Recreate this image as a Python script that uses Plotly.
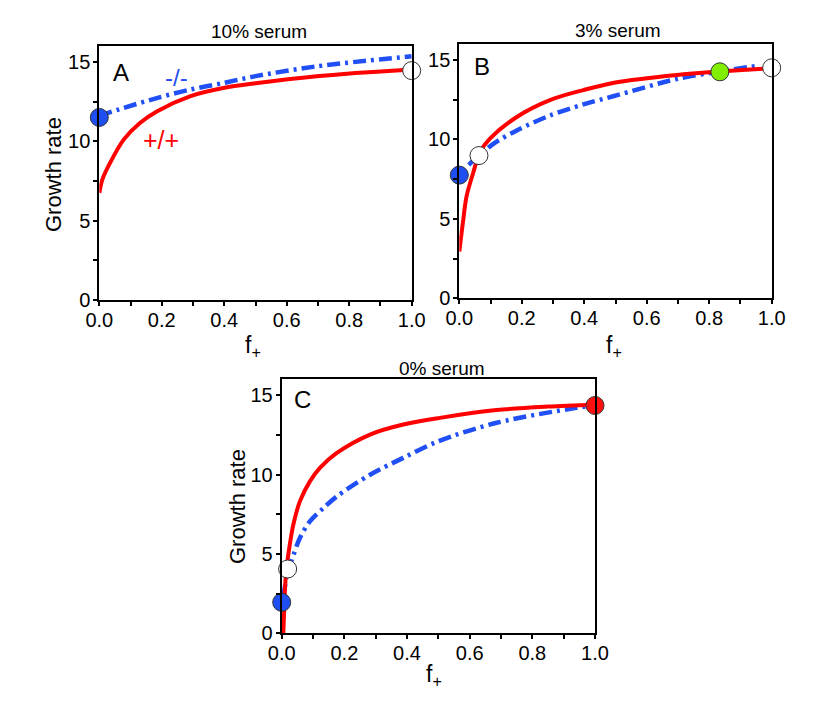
import plotly.graph_objects as go

# ---------------- data ----------------
# Panel A: 10% serum
a_red_x = [0.0, 0.01, 0.034, 0.078, 0.13, 0.184, 0.29, 0.397, 0.5, 0.696, 0.9625, 1.0]
a_red_y = [6.75, 7.6, 8.62, 10.1, 11.15, 11.88, 12.83, 13.35, 13.65, 14.09, 14.47, 14.5]
a_blue_x = [0.0, 0.078, 0.184, 0.29, 0.397, 0.5, 0.696, 1.0]
a_blue_y = [11.6, 12.1, 12.72, 13.25, 13.67, 14.1, 14.72, 15.35]
a_pts_x = [0.0, 1.0]
a_pts_y = [11.5, 14.45]
a_pts_c = ["#1f4ff0", "#ffffff"]

# Panel B: 3% serum
b_red_x = [0.0, 0.0128, 0.0235, 0.045, 0.066, 0.098, 0.184, 0.29, 0.397, 0.5, 0.696, 0.834, 0.973, 1.0]
b_red_y = [2.94, 4.96, 6.44, 7.93, 9.19, 10.04, 11.41, 12.47, 13.1, 13.58, 14.05, 14.27, 14.45, 14.48]
b_blue_x = [0.03, 0.063, 0.109, 0.184, 0.29, 0.397, 0.5, 0.696, 0.834, 0.962]
b_blue_y = [8.4, 8.98, 9.72, 10.56, 11.5, 12.2, 12.75, 13.8, 14.27, 14.65]
b_pts_x = [0.0, 0.063, 0.834, 1.0]
b_pts_y = [7.75, 8.98, 14.25, 14.5]
b_pts_c = ["#1f4ff0", "#ffffff", "#80f000", "#ffffff"]

# Panel C: 0% serum
c_red_x = [0.005, 0.008, 0.0105, 0.015, 0.021, 0.03, 0.037, 0.058, 0.09, 0.122, 0.176, 0.282, 0.388, 0.505, 0.686, 0.85, 1.0]
c_red_y = [0.0, 1.5, 2.84, 4.0, 4.94, 6.1, 6.84, 8.31, 9.57, 10.42, 11.36, 12.52, 13.15, 13.57, 14.06, 14.28, 14.4]
c_blue_x = [0.004, 0.011, 0.019, 0.032, 0.058, 0.09, 0.133, 0.176, 0.282, 0.388, 0.5, 0.686, 0.94, 1.0]
c_blue_y = [2.3, 3.0, 4.04, 4.63, 6.0, 7.05, 7.89, 8.62, 9.99, 11.05, 12.1, 13.26, 14.2, 14.35]
c_pts_x = [0.0, 0.019, 1.0]
c_pts_y = [1.95, 4.05, 14.35]
c_pts_c = ["#1f4ff0", "#ffffff", "#ff1010"]

titles = ["10% serum", "3% serum", "0% serum"]
letters = ["A", "B", "C"]

RED = "#ff0000"
BLUE = "#1f4ff5"
FONT = "Liberation Sans, Arial, sans-serif"

# page body has an 8px margin, so the figure is drawn at (8, 8)
OFF = 8
W, H = 830 - OFF, 712 - OFF
def px_x(p):
    return (p - OFF) / W
def px_y(p):
    return 1 - (p - OFF) / H

# panel boxes in window pixels (left, right, top, bottom)
boxes = [(99.3, 411.7, 46, 300), (459.3, 771.7, 44, 298.3), (281.7, 595, 379.3, 633.3)]

fig = go.Figure()

panels = [
    (a_red_x, a_red_y, a_blue_x, a_blue_y, a_pts_x, a_pts_y, a_pts_c),
    (b_red_x, b_red_y, b_blue_x, b_blue_y, b_pts_x, b_pts_y, b_pts_c),
    (c_red_x, c_red_y, c_blue_x, c_blue_y, c_pts_x, c_pts_y, c_pts_c),
]

for i, (rx, ry, bx, by, mx, my, mc) in enumerate(panels):
    xa = "x" if i == 0 else f"x{i+1}"
    ya = "y" if i == 0 else f"y{i+1}"
    fig.add_trace(go.Scatter(x=bx, y=by, mode="lines", xaxis=xa, yaxis=ya,
                             line=dict(color=BLUE, width=4.5, dash="13px,5px,3px,5px", shape="spline", smoothing=0.9),
                             showlegend=False, hoverinfo="skip"))
    fig.add_trace(go.Scatter(x=rx, y=ry, mode="lines", xaxis=xa, yaxis=ya,
                             line=dict(color=RED, width=4, shape="spline", smoothing=0.9),
                             showlegend=False, hoverinfo="skip"))
    fig.add_trace(go.Scatter(x=mx, y=my, mode="markers", xaxis=xa, yaxis=ya, cliponaxis=False,
                             marker=dict(size=18, color=mc, line=dict(color="#333333", width=1)),
                             showlegend=False, hoverinfo="skip"))

layout = dict(
    width=W, height=H,
    margin=dict(l=0, r=0, t=0, b=0, pad=0, autoexpand=False),
    paper_bgcolor="white", plot_bgcolor="white",
    font=dict(family=FONT, color="black", size=20),
    showlegend=False,
)

TICKFONT = dict(family=FONT, size=20, color="black")
annotations = []
for i, (l, r, t, b) in enumerate(boxes):
    n = "" if i == 0 else str(i + 1)
    dom_x = [px_x(l), px_x(r)]
    dom_y = [px_y(b), px_y(t)]
    common_x = dict(range=[0, 1], showgrid=False, zeroline=False, fixedrange=True, automargin=False)
    common_y = dict(range=[0, 16], showgrid=False, zeroline=False, fixedrange=True, automargin=False)
    layout["xaxis" + n] = dict(
        domain=dom_x, anchor="y" + n, **common_x,
        showline=True, linewidth=2, linecolor="black", mirror=True,
        ticks="outside", ticklen=4, tickwidth=2, tickcolor="black",
        dtick=0.2, tick0=0, tickformat=".1f", tickfont=TICKFONT, ticklabelstandoff=-3,
        minor=dict(ticks="outside", ticklen=4, tickwidth=2, dtick=0.1, tickcolor="black"),
    )
    layout["yaxis" + n] = dict(
        domain=dom_y, anchor="x" + n, **common_y,
        showline=True, linewidth=2, linecolor="black", mirror=True,
        ticks="outside", ticklen=4, tickwidth=2, tickcolor="black",
        dtick=5, tick0=0, tickfont=TICKFONT, ticklabelstandoff=-1,
        minor=dict(ticks="outside", ticklen=4, tickwidth=2, dtick=2.5, tickcolor="black"),
    )
    # top / right inside ticks
    tn = str(i + 4)
    layout["xaxis" + tn] = dict(
        domain=dom_x, anchor="y" + n, overlaying="x" + n, side="top", **common_x,
        showline=False, ticks="inside", ticklen=5, tickwidth=2, tickcolor="black",
        dtick=0.1, tick0=0, showticklabels=False,
    )
    layout["yaxis" + tn] = dict(
        domain=dom_y, anchor="x" + n, overlaying="y" + n, side="right", **common_y,
        showline=False, ticks="inside", ticklen=5, tickwidth=2, tickcolor="black",
        dtick=2.5, tick0=0, showticklabels=False,
    )

def ann(x, y, text, size, color="black", angle=0):
    return dict(x=px_x(x), y=px_y(y), xref="paper", yref="paper", text=text, showarrow=False,
                textangle=angle, font=dict(family=FONT, size=size, color=color),
                xanchor="center", yanchor="middle")

# titles
title_pos = [(258.5, 31), (618, 30), (441.7, 368)]
for (x, y), t in zip(title_pos, titles):
    annotations.append(ann(x, y, t, 19))
# panel letters
letter_pos = [(121, 73), (481.7, 66.7), (302.5, 399)]
for (x, y), t in zip(letter_pos, letters):
    annotations.append(ann(x, y, t, 24))
# genotype labels
annotations.append(ann(176.7, 78, "-/-", 24, BLUE))
annotations.append(ann(161, 140, "+/+", 25, RED))
# axis titles
for (x, y) in [(54, 175), (237, 507)]:
    annotations.append(ann(x, y, "Growth rate", 22, angle=-90))
for (x, y) in [(253, 347), (614, 347), (434, 675)]:
    annotations.append(ann(x, y, "f<sub>+</sub>", 23))

layout["annotations"] = annotations
fig.update_layout(**layout)
fig.write_html("out.html")
